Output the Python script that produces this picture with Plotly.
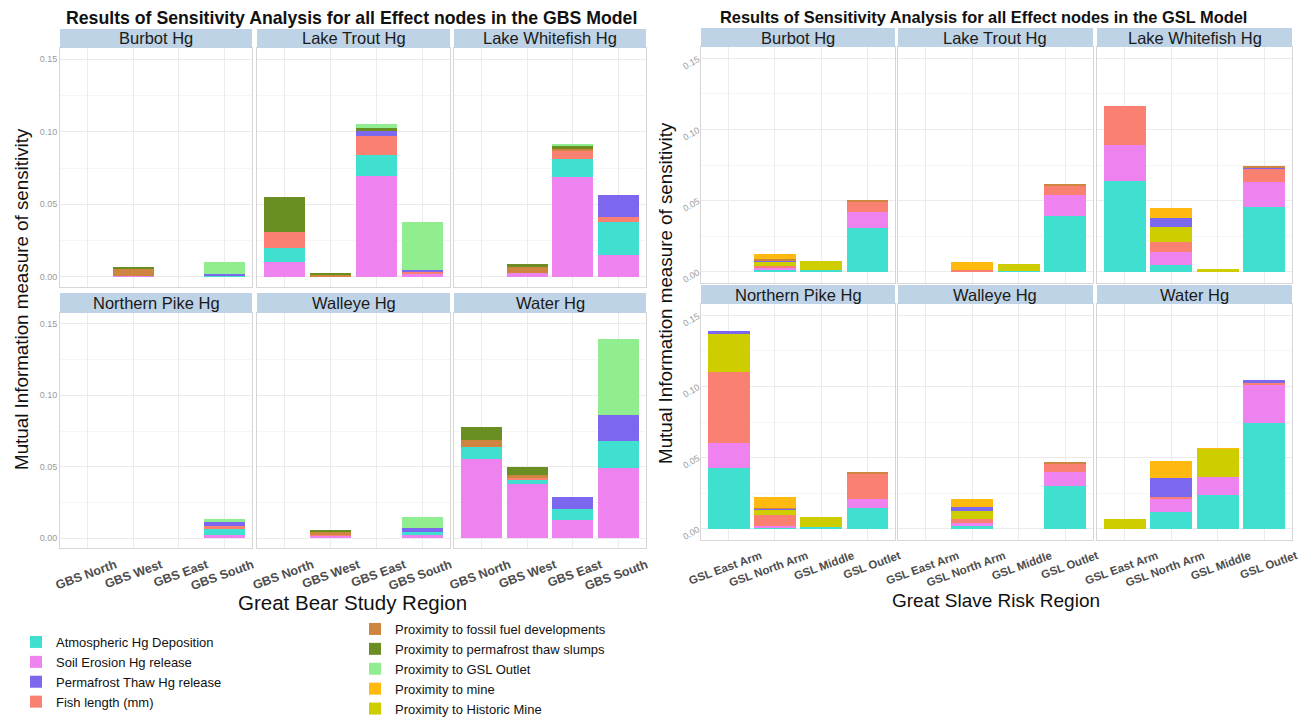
import plotly.graph_objects as go

FIG_W, FIG_H = 1302, 719

# ---------------- data ----------------
factor_keys = ["atm", "soil", "perm", "fish", "fossil", "slump", "outlet", "mine", "hist"]
factor_names = [
    "Atmospheric Hg Deposition",
    "Soil Erosion Hg release",
    "Permafrost Thaw Hg release",
    "Fish length (mm)",
    "Proximity to fossil fuel developments",
    "Proximity to permafrost thaw slumps",
    "Proximity to GSL Outlet",
    "Proximity to mine",
    "Proximity to Historic Mine",
]
factor_colors = ["#40E0D0", "#EE82EE", "#7B68EE", "#FA8072", "#CD853F",
                 "#6B8E23", "#90EE90", "#FFB90F", "#CDCD00"]

species = ["Burbot Hg", "Lake Trout Hg", "Lake Whitefish Hg",
           "Northern Pike Hg", "Walleye Hg", "Water Hg"]
gbs_regions = ["GBS North", "GBS West", "GBS East", "GBS South"]
gsl_regions = ["GSL East Arm", "GSL North Arm", "GSL Middle", "GSL Outlet"]

# GBS model (values per region: North, West, East, South)
gbs_burbot = {"soil": [0, 0.0010, 0, 0], "atm": [0, 0, 0, 0.0010], "fish": [0, 0, 0, 0],
              "perm": [0, 0, 0, 0.0012], "fossil": [0, 0.0050, 0, 0],
              "slump": [0, 0.0008, 0, 0], "outlet": [0, 0, 0, 0.0078]}
gbs_lake_trout = {"soil": [0.0103, 0, 0.0693, 0.0020], "atm": [0.0096, 0, 0.0144, 0],
                  "fish": [0.0110, 0, 0.0135, 0.0018], "perm": [0, 0, 0.0034, 0.0008],
                  "fossil": [0, 0.0015, 0, 0], "slump": [0.0240, 0.0007, 0.0018, 0],
                  "outlet": [0, 0, 0.0026, 0.0334]}
gbs_lake_whitefish = {"soil": [0, 0.0030, 0.0688, 0.0151], "atm": [0, 0, 0.0122, 0.0227],
                      "fish": [0, 0, 0.0060, 0.0037], "perm": [0, 0, 0, 0.0151],
                      "fossil": [0, 0.0042, 0.0010, 0], "slump": [0, 0.0015, 0.0025, 0],
                      "outlet": [0, 0, 0.0010, 0]}
gbs_northern_pike = {"soil": [0, 0, 0, 0.0025], "atm": [0, 0, 0, 0.0040],
                     "fish": [0, 0, 0, 0.0020], "perm": [0, 0, 0, 0.0025],
                     "fossil": [0, 0, 0, 0], "slump": [0, 0, 0, 0],
                     "outlet": [0, 0, 0, 0.0025]}
gbs_walleye = {"soil": [0, 0.0015, 0, 0.0020], "atm": [0, 0, 0, 0.0025],
               "fish": [0, 0.0010, 0, 0], "perm": [0, 0, 0, 0.0025],
               "fossil": [0, 0.0020, 0, 0], "slump": [0, 0.0008, 0, 0],
               "outlet": [0, 0, 0, 0.0075]}
gbs_water = {"soil": [0.0553, 0.0380, 0.0127, 0.0488], "atm": [0.0087, 0.0030, 0.0078, 0.0191],
             "fish": [0, 0.0010, 0, 0], "perm": [0, 0, 0.0083, 0.0182],
             "fossil": [0.0050, 0.0020, 0, 0], "slump": [0.0085, 0.0060, 0, 0],
             "outlet": [0, 0, 0, 0.0533]}

# GSL model (values per region: East Arm, North Arm, Middle, Outlet)
gsl_burbot = {"atm": [0, 0.0010, 0.0010, 0.0308], "soil": [0, 0.0015, 0, 0.0113],
              "fish": [0, 0.0015, 0, 0.0073], "hist": [0, 0.0030, 0.0067, 0],
              "perm": [0, 0.0010, 0, 0], "fossil": [0, 0.0010, 0, 0.0010],
              "mine": [0, 0.0035, 0, 0]}
gsl_lake_trout = {"atm": [0, 0, 0.0005, 0.0390], "soil": [0, 0, 0, 0.0151],
                  "fish": [0, 0.0010, 0, 0.0063], "hist": [0, 0, 0.0049, 0],
                  "perm": [0, 0, 0, 0], "fossil": [0, 0, 0, 0.0014],
                  "mine": [0, 0.0056, 0, 0]}
gsl_lake_whitefish = {"atm": [0.0637, 0.0047, 0, 0.0458], "soil": [0.0253, 0.0094, 0, 0.0172],
                      "fish": [0.0273, 0.0068, 0, 0.0094], "hist": [0, 0.0108, 0.0018, 0],
                      "perm": [0, 0.0060, 0, 0.0008], "fossil": [0, 0, 0, 0.0008],
                      "mine": [0, 0.0070, 0, 0]}
gsl_northern_pike = {"atm": [0.0427, 0.0010, 0.0010, 0.0147], "soil": [0.0175, 0.0010, 0, 0.0059],
                     "fish": [0.0497, 0.0074, 0, 0.0182], "hist": [0.0268, 0.0042, 0.0070, 0],
                     "perm": [0.0020, 0.0005, 0, 0], "fossil": [0, 0.0005, 0, 0.0008],
                     "mine": [0, 0.0077, 0, 0]}
gsl_walleye = {"atm": [0, 0.0020, 0, 0.0297], "soil": [0, 0.0020, 0, 0.0098],
               "fish": [0, 0.0030, 0, 0.0065], "hist": [0, 0.0056, 0, 0],
               "perm": [0, 0.0024, 0, 0], "fossil": [0, 0, 0, 0.0010],
               "mine": [0, 0.0056, 0, 0]}
gsl_water = {"atm": [0, 0.0119, 0.0240, 0.0744], "soil": [0, 0.0093, 0.0123, 0.0268],
             "fish": [0, 0.0010, 0, 0.0010], "hist": [0.0068, 0, 0.0198, 0],
             "perm": [0, 0.0134, 0, 0.0020], "fossil": [0, 0, 0, 0],
             "mine": [0, 0.0123, 0.0005, 0]}

gbs_panels = [gbs_burbot, gbs_lake_trout, gbs_lake_whitefish,
              gbs_northern_pike, gbs_walleye, gbs_water]
gsl_panels = [gsl_burbot, gsl_lake_trout, gsl_lake_whitefish,
              gsl_northern_pike, gsl_walleye, gsl_water]

gbs_stack_order = ["soil", "atm", "fish", "perm", "fossil", "slump", "outlet"]
gsl_stack_order = ["atm", "soil", "fish", "hist", "perm", "fossil", "mine"]

y_ticks = [0, 0.05, 0.10, 0.15]
y_ticklabels = ["0.00", "0.05", "0.10", "0.15"]

# ---------------- geometry (pixels) ----------------
FONT = "Liberation Sans, Arial, sans-serif"
STRIP_COLOR = "#BED3E5"
BORDER = "#D6D6D6"
GRID = "#EBEBEB"
GRID_MINOR = "#F5F5F5"

models = [
    dict(panels=gbs_panels, order=gbs_stack_order, regions=gbs_regions,
         cols=[(60, 252), (257, 450), (454, 646)],
         rows=[(48, 287), (313, 548)], strips=[(29, 48), (293, 313)],
         yrange=[-0.0069, 0.1576], ytickangle=0, xshift=28, xfont=12.5),
    dict(panels=gsl_panels, order=gsl_stack_order, regions=gsl_regions,
         cols=[(701, 895), (898, 1093), (1097, 1292)],
         rows=[(47, 283), (304, 540)], strips=[(28, 47), (285, 304)],
         yrange=[-0.0080, 0.1580], ytickangle=-30, xshift=32, xfont=11.5),
]


def fx(p):
    return p / FIG_W


def fy(p):
    return 1 - p / FIG_H


fig = go.Figure()
layout_axes = {}
shapes = []
annotations = []
legend_shown = set()
k = 0
for m in models:
    for pi, panel in enumerate(m["panels"]):
        k += 1
        r, c = divmod(pi, 3)
        x0, x1 = m["cols"][c]
        y0, y1 = m["rows"][r]
        xa = "x" if k == 1 else f"x{k}"
        ya = "y" if k == 1 else f"y{k}"
        for key in m["order"]:
            idx = factor_keys.index(key)
            show = key not in legend_shown
            legend_shown.add(key)
            fig.add_trace(go.Bar(
                x=m["regions"], y=panel[key], xaxis=xa, yaxis=ya,
                name=factor_names[idx], legendgroup=factor_names[idx],
                marker=dict(color=factor_colors[idx], line=dict(width=0)),
                showlegend=show, legendrank=idx + 1,
                legend="legend" if idx < 4 else "legend2",
            ))
        layout_axes[f"xaxis{k}"] = dict(
            domain=[fx(x0), fx(x1)], anchor=ya, type="category",
            categoryorder="array", categoryarray=m["regions"],
            range=[-0.6, 3.6], showgrid=True, gridcolor=GRID, gridwidth=1,
            showline=True, mirror=True, linecolor=BORDER, linewidth=1,
            zeroline=False, ticks="", showticklabels=(r == 1),
            tickangle=-20, ticklabelshift=m["xshift"], ticklabelstandoff=4,
            tickfont=dict(family=FONT, size=m["xfont"], color="#4D4D4D", weight="bold"),
        )
        layout_axes[f"yaxis{k}"] = dict(
            domain=[fy(y1), fy(y0)], anchor=xa, range=m["yrange"],
            tickmode="array", tickvals=y_ticks, ticktext=y_ticklabels,
            showgrid=True, gridcolor=GRID, gridwidth=1,
            minor=dict(tickmode="array", tickvals=[0.025, 0.075, 0.125],
                       showgrid=True, gridcolor=GRID_MINOR, gridwidth=1),
            showline=True, mirror=True, linecolor=BORDER, linewidth=1,
            zeroline=False, ticks="", showticklabels=(c == 0),
            tickangle=m["ytickangle"],
            tickfont=dict(family=FONT, size=9, color="#9A9A9A"),
        )
        s0, s1 = m["strips"][r]
        shapes.append(dict(type="rect", xref="paper", yref="paper",
                           x0=fx(x0), x1=fx(x1), y0=fy(s1), y1=fy(s0),
                           fillcolor=STRIP_COLOR, line=dict(width=0)))
        annotations.append(dict(text=species[pi], xref="paper", yref="paper",
                                x=fx((x0 + x1) / 2), y=fy((s0 + s1) / 2),
                                xanchor="center", yanchor="middle", showarrow=False,
                                font=dict(family=FONT, size=16.5, color="#1A1A1A")))

# titles and axis titles
text_items = [
    ("<b>Results of Sensitivity Analysis for all Effect nodes in the GBS Model</b>", 351, 18, 17.7, 0),
    ("<b>Results of Sensitivity Analysis for all Effect nodes in the GSL Model</b>", 983, 17, 16.4, 0),
    ("Great Bear Study Region", 353, 602, 20.5, 0),
    ("Great Slave Risk Region", 996, 600, 19, 0),
    ("Mutual Information measure of sensitivity", 21, 299, 18.8, -90),
    ("Mutual Information measure of sensitivity", 665, 293, 18.8, -90),
]
for t, px, py, size, ang in text_items:
    annotations.append(dict(text=t, xref="paper", yref="paper", x=fx(px), y=fy(py),
                            xanchor="center", yanchor="middle", showarrow=False,
                            textangle=ang, font=dict(family=FONT, size=size, color="#111111")))

fig.update_layout(
    width=FIG_W, height=FIG_H,
    margin=dict(l=0, r=0, t=0, b=0, autoexpand=False),
    paper_bgcolor="white", plot_bgcolor="white",
    barmode="stack", bargap=0.1,
    shapes=shapes, annotations=annotations,
    legend=dict(x=fx(16), y=fy(627), xanchor="left", yanchor="top",
                orientation="v", bgcolor="rgba(0,0,0,0)", tracegroupgap=0,
                font=dict(family=FONT, size=13, color="#111111"),
                itemclick=False, itemdoubleclick=False),
    legend2=dict(x=fx(355), y=fy(614), xanchor="left", yanchor="top",
                 orientation="v", bgcolor="rgba(0,0,0,0)", tracegroupgap=0,
                 font=dict(family=FONT, size=13, color="#111111"),
                 itemclick=False, itemdoubleclick=False),
    **layout_axes,
)

fig.write_html(
    "out.html",
    config={"displayModeBar": False},
    post_script="document.body.style.margin='0px';document.body.style.overflow='hidden';",
)
